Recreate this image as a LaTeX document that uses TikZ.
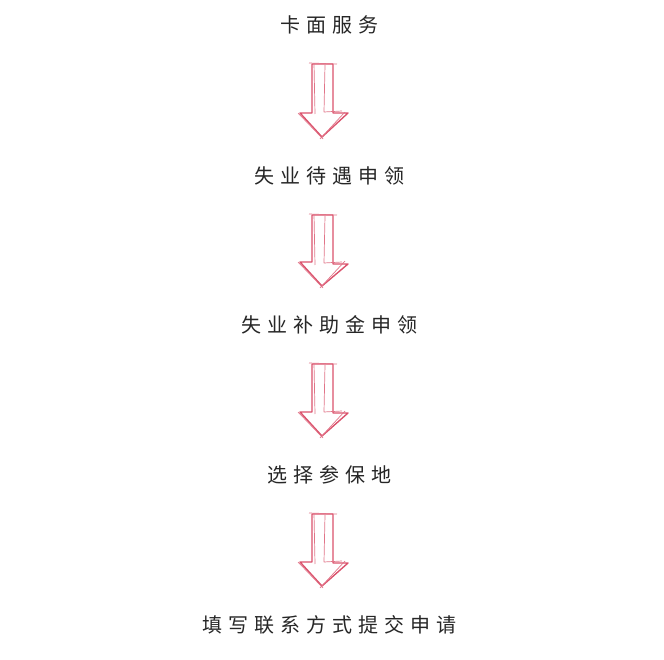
\documentclass[tikz,border=0pt]{standalone}
\usepackage{fontspec}
\newfontfamily\cjk[LetterSpace=30]{Noto Sans CJK SC}
\usepackage{tikz}
\usetikzlibrary{positioning}
\usetikzlibrary{calc}
\definecolor{arrowred}{RGB}{218,82,108}
\tikzstyle{stage}=[font=\cjk\fontsize{20}{24}\selectfont,text=black!85,inner sep=0pt]
\tikzstyle{sketch}=[draw=arrowred,line width=1.4pt,line join=round]
\tikzstyle{sketchthin}=[draw=arrowred!80,line width=0.7pt,line join=round]

\begin{document}
\begin{tikzpicture}[x=1pt,y=-1pt, auto]
    \useasboundingbox (0,0) rectangle (664,660);
    % First we draw the stages
    \foreach \pos/\name/\label in {{(329,25)/s1/卡面服务}, {(329,176)/s2/失业待遇申领}, {(329,325)/s3/失业补助金申领}, {(329,475)/s4/选择参保地}, {(329,625)/s5/填写联系方式提交申请}}
        \node[stage] (\name) at \pos {\label};
    % Then the hand drawn arrows between them
    \foreach \source/\dest in {s1/s2, s2/s3, s3/s4, s4/s5}
    {
        \draw[sketch] ($(\source.center)+(-17,39)$) -- ++(21,0) -- ++(0,49) -- ++(15,0)
            -- ($(\dest.center)+(-7,-39)$) -- ++(-22,-24) -- ++(12,0) -- cycle;
        \draw[sketchthin] ($(\source.center)+(-20,38)$) -- ++(28,1) (\source.center) ++(-15,38) -- ++(1,51)
            ($(\source.center)+(-4,40)$) -- ++(-1,47) -- ++(18,-1)
            ($(\dest.center)+(-6,-37)$) -- ++(-25,-26) ($(\dest.center)+(-9,-37)$) -- ++(25,-27);
    }
\end{tikzpicture}
\end{document}
